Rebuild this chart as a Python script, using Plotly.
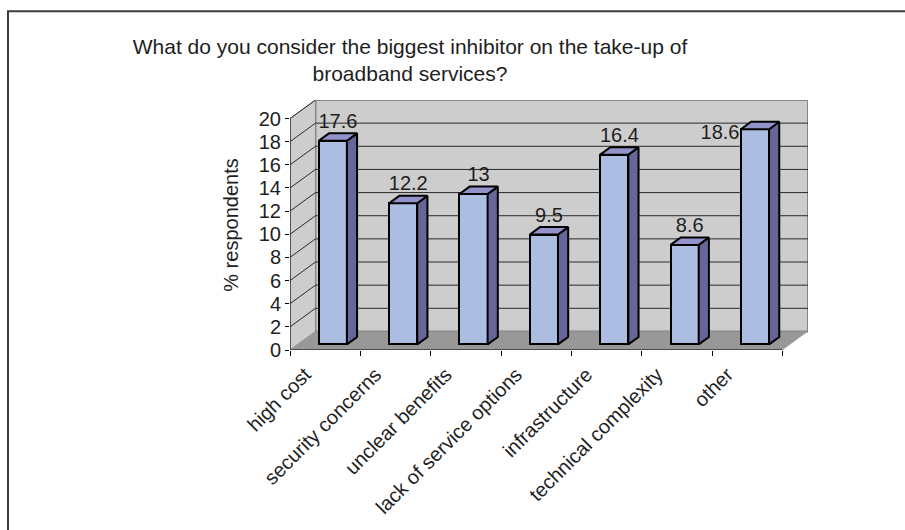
import plotly.graph_objects as go

# Survey answers
categories = ["high cost", "security concerns", "unclear benefits",
              "lack of service options", "infrastructure",
              "technical complexity", "other"]
values = [17.6, 12.2, 13, 9.5, 16.4, 8.6, 18.6]
value_labels = ["17.6", "12.2", "13", "9.5", "16.4", "8.6", "18.6"]
y_ticks = list(range(0, 21, 2))

TITLE = "What do you consider the biggest inhibitor on the take-up of<br>broadband services?"
Y_TITLE = "% respondents"

# Page / plot geometry
W, H = 905, 530
ML, MR, MT, MB = 290, 97, 100, 174
PW, PH = W - ML - MR, H - MT - MB
Y_MAX = 20
N = len(categories)

# Oblique depth of the 3-D floor, in axis units
DX = 0.362
DY = 1.603
BAR_W = 0.4
F0, F1 = 0.3, 0.7          # bar spans this part of the floor depth

FONT = "Liberation Sans, Arial, Helvetica, sans-serif"
TXT = "#1e1e1e"
WALL = "#cdcdcd"
FLOOR = "#989898"
EDGE = "#868686"
GRID = "#2a2a2a"
FRONT = "#abbde0"
SIDE = "#666699"
TOP = "#9393cc"

x_lo, x_hi = -0.5, N - 0.5
xr = [x_lo, x_hi + DX]
yr = [0, Y_MAX + DY]

fig = go.Figure()

# Front faces of the columns
fig.add_trace(go.Bar(
    x=list(range(N)), y=values,
    base=[F0 * DY] * N,
    width=BAR_W, offset=-BAR_W / 2 + F0 * DX,
    marker=dict(color=FRONT, line=dict(color="black", width=2)),
    hoverinfo="skip", showlegend=False,
))

# Side and top faces of the columns
ddx, ddy = (F1 - F0) * DX, (F1 - F0) * DY
for i, v in enumerate(values):
    xl = i - BAR_W / 2 + F0 * DX
    xrt = xl + BAR_W
    b = F0 * DY
    t = b + v
    fig.add_trace(go.Scatter(
        x=[xrt, xrt, xrt + ddx, xrt + ddx, xrt],
        y=[b, t, t + ddy, b + ddy, b],
        fill="toself", fillcolor=SIDE, mode="lines",
        line=dict(color="black", width=2), hoverinfo="skip", showlegend=False,
    ))
    fig.add_trace(go.Scatter(
        x=[xl, xrt, xrt + ddx, xl + ddx, xl],
        y=[t, t, t + ddy, t + ddy, t],
        fill="toself", fillcolor=TOP, mode="lines",
        line=dict(color="black", width=2), hoverinfo="skip", showlegend=False,
    ))

# Value labels above the columns (moved beside the column when it nears the top)
lx, ly, lpos = [], [], []
for i, v in enumerate(values):
    xl = i - BAR_W / 2 + F0 * DX
    top = F0 * DY + v
    if top + 1.7 > Y_MAX:
        lx.append(xl - 0.02)
        ly.append(top - 0.45)
        lpos.append("middle left")
    else:
        lx.append(i + F0 * DX + (F1 - F0) * DX / 2)
        ly.append(top + 1.55)
        lpos.append("middle center")
fig.add_trace(go.Scatter(
    x=lx, y=ly, text=value_labels, mode="text", textposition=lpos,
    textfont=dict(family=FONT, size=20, color=TXT),
    xaxis="x2", hoverinfo="skip", showlegend=False,
))

shapes = []
# Back wall, side wall and floor
shapes.append(dict(type="rect", xref="x", yref="y", layer="below",
                   x0=x_lo + DX, x1=x_hi + DX, y0=DY, y1=Y_MAX + DY,
                   fillcolor=WALL, line=dict(color=EDGE, width=2)))
shapes.append(dict(type="path", xref="x", yref="y", layer="below",
                   path=f"M {x_lo},0 L {x_lo + DX},{DY} L {x_lo + DX},{Y_MAX + DY} L {x_lo},{Y_MAX} Z",
                   fillcolor=WALL, line=dict(color=EDGE, width=1)))
shapes.append(dict(type="path", xref="x", yref="y", layer="below",
                   path=f"M {x_lo},0 L {x_hi},0 L {x_hi + DX},{DY} L {x_lo + DX},{DY} Z",
                   fillcolor=FLOOR, line=dict(width=0)))
# Gridlines on the walls
for v in y_ticks[1:-1]:
    shapes.append(dict(type="line", xref="x", yref="y", layer="below",
                       x0=x_lo + DX, x1=x_hi + DX, y0=v + DY, y1=v + DY,
                       line=dict(color=GRID, width=1)))
for v in y_ticks[1:]:
    shapes.append(dict(type="line", xref="x", yref="y", layer="below",
                       x0=x_lo, x1=x_lo + DX, y0=v, y1=v + DY,
                       line=dict(color=GRID, width=1)))
# Front axis lines
shapes.append(dict(type="line", xref="x", yref="y", x0=x_lo, x1=x_lo, y0=0, y1=Y_MAX,
                   line=dict(color="black", width=1)))
shapes.append(dict(type="line", xref="x", yref="y", x0=x_lo, x1=x_hi, y0=0, y1=0,
                   line=dict(color="black", width=1)))
# Chart border
shapes.append(dict(type="rect", xref="paper", yref="paper",
                   x0=(8 - ML) / PW, x1=(W + 40 - ML) / PW,
                   y0=(H - MB - 9) / PH, y1=(H - MB - H - 40) / PH,
                   line=dict(color="#3c3c3c", width=2), fillcolor="rgba(0,0,0,0)"))

fig.update_layout(
    width=W, height=H,
    margin=dict(l=ML, r=MR, t=MT, b=MB, pad=0),
    paper_bgcolor="white", plot_bgcolor="white",
    font=dict(family=FONT, size=20, color=TXT),
    title=dict(text=TITLE, xref="container", yref="container",
               x=410 / W, xanchor="center", y=1 - 54 / H, yanchor="top",
               font=dict(family=FONT, size=21, color=TXT)),
    showlegend=False,
    bargap=0,
    shapes=shapes,
    xaxis=dict(range=xr, tickmode="array", tickvals=list(range(N)), ticktext=categories,
               tickangle=-45, ticks="", showgrid=False, zeroline=False, showline=False,
               ticklabelshift=-20, ticklabelstandoff=8,
               tickfont=dict(family=FONT, size=20, color=TXT), fixedrange=True),
    xaxis2=dict(range=xr, overlaying="x", anchor="y", side="bottom",
                tickmode="array", tickvals=[x_lo + k for k in range(N + 1)],
                ticks="outside", ticklen=5, tickcolor="black", tickwidth=1,
                showticklabels=False, showgrid=False, zeroline=False, showline=False),
    yaxis=dict(range=yr, tickmode="array", tickvals=y_ticks, ticks="outside",
               ticklen=4, tickcolor="black", showgrid=False, zeroline=False,
               showline=False, tickfont=dict(family=FONT, size=20, color=TXT),
               title=dict(text=Y_TITLE, standoff=14,
                          font=dict(family=FONT, size=20, color=TXT))),
)

fig.write_html("out.html")
